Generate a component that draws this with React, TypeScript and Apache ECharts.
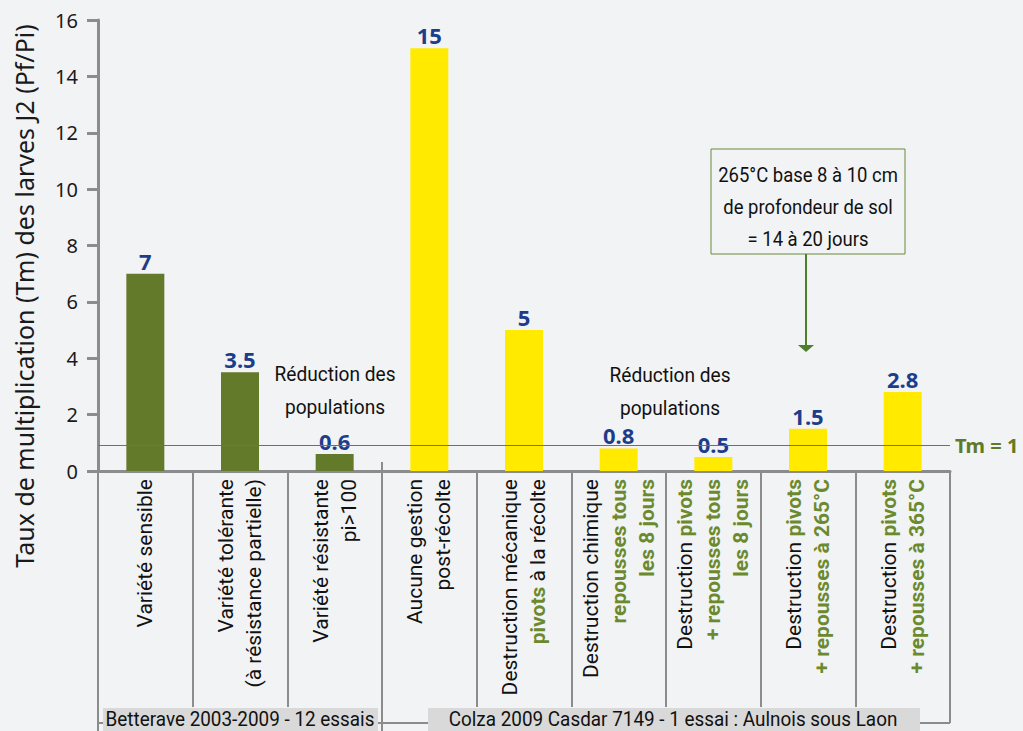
import React, { useEffect, useRef } from "react";
import * as echarts from "echarts";

// ---- Data ----
const categories: string[] = [
  "Variété sensible",
  "Variété tolérante\n(à résistance partielle)",
  "Variété résistante\npi>100",
  "Aucune gestion\npost-récolte",
  "Destruction mécanique\n{g|pivots} à la récolte",
  "Destruction chimique\n{g|repousses tous}\n{g|les 8 jours}",
  "Destruction {g|pivots}\n{g|+ repousses tous}\n{g|les 8 jours}",
  "Destruction {g|pivots}\n{g|+ repousses à 265°C}",
  "Destruction {g|pivots}\n{g|+ repousses à 365°C}",
];
const values: number[] = [7, 3.5, 0.6, 15, 5, 0.8, 0.5, 1.5, 2.8];
const groupOf: string[] = ["B", "B", "B", "C", "C", "C", "C", "C", "C"];
const groupLabels: string[] = [
  "Betterave 2003-2009 - 12 essais",
  "Colza 2009 Casdar 7149 - 1 essai : Aulnois sous Laon",
];
const yMin = 0;
const yMax = 16;
const yInterval = 2;
const tmLevel = 0.9;
const tmLabel = "Tm = 1";
const yTitle = "Taux de multiplication (Tm) des larves J2 (Pf/Pi)";
const noteLines = ["265°C base 8 à 10 cm", "de profondeur de sol", "= 14 à 20 jours"];
const reductionText = "Réduction des\npopulations";

// ---- Styles ----
const BG = "#f2f3f5";
const GREEN_BAR = "#637a2b";
const YELLOW_BAR = "#ffea00";
const OLIVE = "#6b8a2e";
const BLUE = "#1d3d8a";
const AXIS_GRAY = "#8c8c8c";
const COND = 'Roboto, "Noto Sans", sans-serif';
const SANS = '"Noto Sans", "Open Sans", sans-serif';

export default function App() {
  const ref = useRef<HTMLDivElement>(null);

  useEffect(() => {
    if (!ref.current) return;
    const chart = echarts.init(ref.current, undefined, { renderer: "svg" });

    const option: any = {
      animation: false,
      backgroundColor: BG,
      grid: { left: 98, right: 73, top: 20, bottom: 260 },
      xAxis: {
        type: "category",
        data: categories,
        axisLine: { lineStyle: { color: AXIS_GRAY, width: 3 } },
        axisTick: {
          show: true,
          alignWithLabel: false,
          interval: 0,
          length: 236,
          lineStyle: { color: AXIS_GRAY, width: 2 },
        },
        axisLabel: {
          interval: 0,
          rotate: 90,
          margin: 8,
          fontFamily: COND,
          fontSize: 21,
          lineHeight: 28,
          color: "#111",
          align: "right",
          rich: {
            g: {
              fontFamily: COND,
              fontSize: 21,
              lineHeight: 28,
              fontWeight: "bold",
              color: OLIVE,
              align: "right",
            },
          },
        },
      },
      yAxis: {
        type: "value",
        min: yMin,
        max: yMax,
        interval: yInterval,
        axisLine: { show: true, lineStyle: { color: AXIS_GRAY, width: 3 } },
        axisTick: { show: true, length: 11, lineStyle: { color: AXIS_GRAY, width: 3 } },
        axisLabel: { fontFamily: SANS, fontSize: 20, color: "#1a1a1a", margin: 20 },
        splitLine: { show: false },
      },
      series: [
        {
          type: "bar",
          barWidth: 38,
          data: values.map((v, i) => ({
            value: v,
            itemStyle: { color: groupOf[i] === "B" ? GREEN_BAR : YELLOW_BAR },
          })),
          label: {
            show: true,
            position: "top",
            distance: 2,
            fontFamily: SANS,
            fontWeight: "bold",
            fontSize: 22,
            color: BLUE,
          },
          markLine: {
            silent: true,
            symbol: "none",
            lineStyle: { color: "#6b7d2e", width: 1, type: "solid" },
            label: {
              show: true,
              position: "end",
              distance: 5,
              formatter: tmLabel,
              fontFamily: SANS,
              fontWeight: "bold",
              fontSize: 20,
              color: "#5f7a28",
            },
            data: [{ yAxis: tmLevel }],
          },
        },
      ],
      graphic: [
        // y axis title
        {
          type: "text",
          x: 24,
          y: 296,
          rotation: Math.PI / 2,
          style: { text: yTitle, fontFamily: SANS, fontSize: 25, fill: "#1a1a1a", align: "center", verticalAlign: "middle" },
        },
        // bracket lines under the axis
        { type: "line", shape: { x1: 98, y1: 723, x2: 950, y2: 723 }, style: { stroke: AXIS_GRAY, lineWidth: 2 } },
        { type: "line", shape: { x1: 98, y1: 700, x2: 98, y2: 731 }, style: { stroke: AXIS_GRAY, lineWidth: 2 } },
        { type: "line", shape: { x1: 382, y1: 462, x2: 382, y2: 731 }, style: { stroke: AXIS_GRAY, lineWidth: 2 } },
        { type: "line", shape: { x1: 950, y1: 700, x2: 950, y2: 723 }, style: { stroke: AXIS_GRAY, lineWidth: 2 } },
        // group label boxes
        { type: "rect", shape: { x: 103, y: 708, width: 275, height: 30 }, style: { fill: "#d9d9d9" } },
        { type: "rect", shape: { x: 428, y: 708, width: 492, height: 30 }, style: { fill: "#d9d9d9" } },
        {
          type: "text",
          x: 240,
          y: 719,
          scaleX: 0.9,
          style: { text: groupLabels[0], fontFamily: COND, fontSize: 21, fill: "#111", align: "center", verticalAlign: "middle" },
        },
        {
          type: "text",
          x: 673,
          y: 719,
          scaleX: 0.9,
          style: { text: groupLabels[1], fontFamily: COND, fontSize: 21, fill: "#111", align: "center", verticalAlign: "middle" },
        },
        // "Réduction des populations"
        {
          type: "text",
          x: 335,
          y: 390,
          scaleX: 0.91,
          style: { text: reductionText, fontFamily: COND, fontSize: 21, lineHeight: 33, fill: "#111", align: "center", verticalAlign: "middle" },
        },
        {
          type: "text",
          x: 670,
          y: 391,
          scaleX: 0.91,
          style: { text: reductionText, fontFamily: COND, fontSize: 21, lineHeight: 33, fill: "#111", align: "center", verticalAlign: "middle" },
        },
        // annotation box
        {
          type: "rect",
          shape: { x: 711, y: 149, width: 194, height: 105 },
          style: { fill: BG, stroke: "#6b8a3a", lineWidth: 1 },
        },
        {
          type: "text",
          x: 808,
          y: 207,
          scaleX: 0.88,
          style: { text: noteLines.join("\n"), fontFamily: COND, fontSize: 21, lineHeight: 32, fill: "#111", align: "center", verticalAlign: "middle" },
        },
        { type: "line", shape: { x1: 806, y1: 254, x2: 806, y2: 346 }, style: { stroke: "#4e7d2b", lineWidth: 2 } },
        {
          type: "polygon",
          shape: { points: [[798, 345], [814, 345], [806, 352]] },
          style: { fill: "#4e7d2b" },
        },
      ],
    };

    chart.setOption(option);
    return () => chart.dispose();
  }, []);

  return (
    <div
      ref={ref}
      style={{ position: "fixed", left: 0, top: 0, width: 1023, height: 731 }}
    />
  );
}
